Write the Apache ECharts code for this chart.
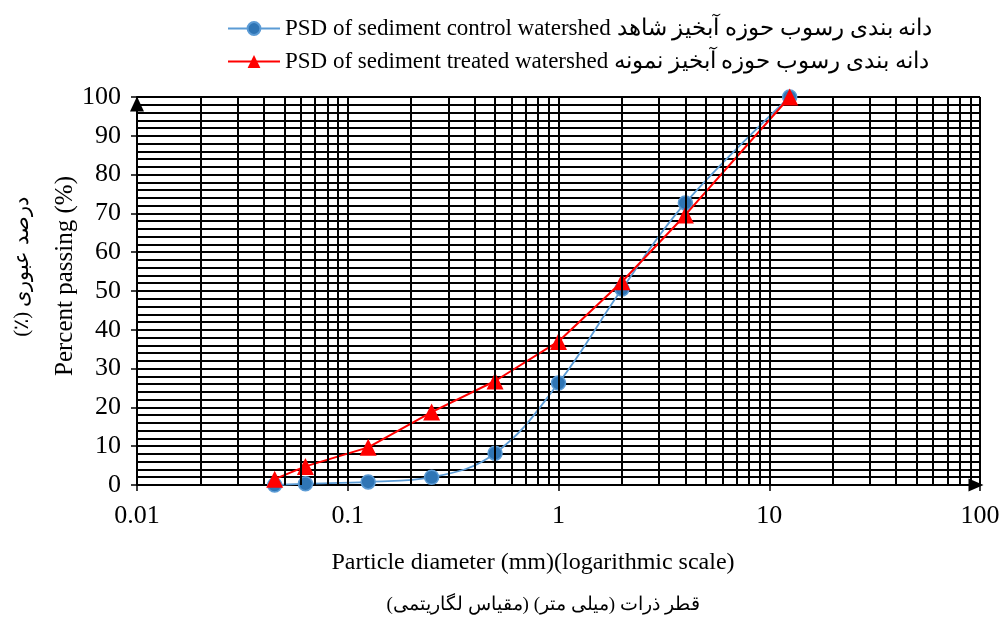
<!DOCTYPE html>
<html lang="en">
  <head>
    <meta charset="UTF-8" />
    <title>PSD</title>
    <script src="https://cdn.jsdelivr.net/npm/echarts@6.0.0/dist/echarts.min.js"></script>
    <style>
      body { margin: 0; background: #fff; }
    </style>
  </head>
  <body>
    <div id="main" style="width: 1008px; height: 621px"></div>
    <script type="text/javascript">
      // particle diameters (mm) and percent passing
      var diameters = [0.045, 0.063, 0.125, 0.25, 0.5, 1, 2, 4, 12.5];
      var controlPassing = [0, 0.3, 0.8, 2, 8.2, 26.3, 50.5, 72.7, 100];
      var treatedPassing = [1.5, 4.8, 9.7, 18.8, 26.8, 37, 52.4, 69.6, 100];

      var controlName = "PSD of sediment control watershed دانه بندی رسوب حوزه آبخیز شاهد";
      var treatedName = "PSD of sediment treated watershed دانه بندی رسوب حوزه آبخیز نمونه";

      var serif = "'Liberation Serif', 'Times New Roman', serif";

      // vertical log grid: 1..9 x each decade
      var gridX = [];
      for (var d = -2; d <= 1; d++) {
        for (var k = 1; k <= 9; k++) {
          gridX.push({ xAxis: +(k * Math.pow(10, d)).toPrecision(2) });
        }
      }
      gridX.push({ xAxis: 100 });

      function pairs(ys) {
        return diameters.map(function (x, i) { return [x, ys[i]]; });
      }

      var myChart = echarts.init(document.getElementById("main"));

      var option = {
        animation: false,
        backgroundColor: "#fff",
        textStyle: { fontFamily: serif },
        legend: {
          data: [controlName, treatedName],
          orient: "vertical",
          left: 222,
          top: 12,
          itemWidth: 52,
          itemHeight: 16,
          itemGap: 10,
          textStyle: { fontFamily: serif, fontSize: 23, color: "#000" },
        },
        grid: { left: 137, right: 28, top: 97, bottom: 136 },
        xAxis: {
          type: "log",
          logBase: 10,
          min: 0.01,
          max: 100,
          axisLine: {
            lineStyle: { color: "#000", width: 2 },
            symbol: ["none", "triangle"],
            symbolSize: [13, 15],
            symbolOffset: [0, -4],
          },
          axisTick: { show: true, length: 6, lineStyle: { color: "#000", width: 1.5 } },
          axisLabel: {
            color: "#000",
            fontSize: 26,
            fontFamily: serif,
            margin: 18,
            formatter: function (v) { return String(+(+v).toPrecision(3)); },
          },
          splitLine: { show: false },
        },
        yAxis: {
          type: "value",
          min: 0,
          max: 100,
          interval: 10,
          axisLine: {
            show: true,
            lineStyle: { color: "#000", width: 2 },
            symbol: ["none", "triangle"],
            symbolSize: [14, 15],
            symbolOffset: [0, -7],
          },
          axisTick: { show: true, length: 6, lineStyle: { color: "#000", width: 1.5 } },
          axisLabel: { color: "#000", fontSize: 26, fontFamily: serif, margin: 16 },
          splitLine: { show: true, lineStyle: { color: "#000", width: 2 } },
          minorTick: { show: false, splitNumber: 5 },
          minorSplitLine: { show: true, lineStyle: { color: "#000", width: 2 } },
        },
        graphic: [
          {
            type: "text",
            style: {
              text: "Particle diameter (mm)(logarithmic scale)",
              x: 533,
              y: 563,
              align: "center",
              verticalAlign: "middle",
              font: "24px " + serif,
              fill: "#000",
            },
          },
          {
            type: "text",
            style: {
              text: "قطر ذرات (میلی متر) (مقیاس لگاریتمی)\u200F",
              x: 543,
              y: 605,
              align: "center",
              verticalAlign: "middle",
              font: "19px " + serif,
              fill: "#000",
            },
          },
          {
            type: "text",
            x: 65,
            y: 276,
            rotation: Math.PI / 2,
            style: {
              text: "Percent passing (%)",
              x: 0,
              y: 0,
              align: "center",
              verticalAlign: "middle",
              font: "25px " + serif,
              fill: "#000",
            },
          },
          {
            type: "text",
            x: 22,
            y: 267,
            rotation: Math.PI / 2,
            style: {
              text: "درصد عبوری (٪)\u200F",
              x: 0,
              y: 0,
              align: "center",
              verticalAlign: "middle",
              font: "21px " + serif,
              fill: "#000",
            },
          },
        ],
        series: [
          {
            name: "grid",
            type: "line",
            data: [],
            silent: true,
            z: 1,
            markLine: {
              silent: true,
              symbol: "none",
              animation: false,
              label: { show: false },
              lineStyle: { color: "#000", width: 2, type: "solid" },
              emphasis: { disabled: true },
              data: gridX,
            },
          },
          {
            name: controlName,
            type: "line",
            data: pairs(controlPassing),
            smooth: 0.4,
            symbol: "circle",
            symbolSize: 14,
            z: 3,
            lineStyle: { color: "#5b9bd5", width: 1.8 },
            itemStyle: { color: "#2f75b5", borderColor: "#5b9bd5", borderWidth: 1.5 },
          },
          {
            name: treatedName,
            type: "line",
            data: pairs(treatedPassing),
            symbol: "triangle",
            symbolSize: 17,
            z: 4,
            lineStyle: { color: "#ff0000", width: 2 },
            itemStyle: { color: "#ff0000" },
          },
        ],
      };
      myChart.setOption(option);
    </script>
  </body>
</html>
